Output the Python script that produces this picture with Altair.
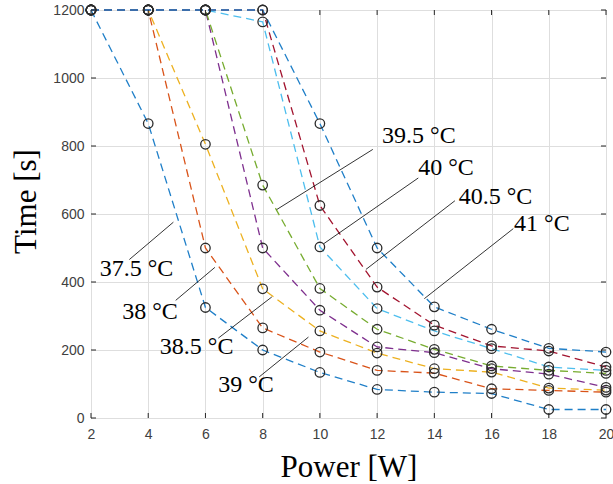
import altair as alt
import pandas as pd

# Heating power (W) on the x axis
power = [2, 4, 6, 8, 10, 12, 14, 16, 18, 20]

# Time (s) to reach each target temperature; 1200 s is the cap
t_375 = [1200, 866, 325, 200, 134, 84, 76, 72, 25, 25]
t_380 = [1200, 1200, 500, 265, 194, 140, 132, 86, 81, 76]
t_385 = [1200, 1200, 805, 380, 256, 191, 145, 135, 88, 82]
t_390 = [1200, 1200, 1200, 500, 317, 209, 192, 145, 129, 90]
t_395 = [1200, 1200, 1200, 685, 381, 261, 202, 153, 140, 131]
t_400 = [1200, 1200, 1200, 1165, 503, 322, 256, 204, 150, 140]
t_405 = [1200, 1200, 1200, 1200, 625, 385, 273, 212, 197, 150]
t_410 = [1200, 1200, 1200, 1200, 866, 500, 327, 261, 205, 194]

series_names = ["37.5 °C", "38 °C", "38.5 °C", "39 °C", "39.5 °C", "40 °C", "40.5 °C", "41 °C"]
series_values = [t_375, t_380, t_385, t_390, t_395, t_400, t_405, t_410]
series_colors = ["#1f7fc8", "#D95319", "#EDB120", "#7E2F8E",
                 "#77AC30", "#4DBEEE", "#A2142F", "#1f7fc8"]

x_ticks = [2, 4, 6, 8, 10, 12, 14, 16, 18, 20]
y_ticks = [0, 200, 400, 600, 800, 1000, 1200]

# Callout labels: leader line (x, y) -> (x2, y2) and label centre (tx, ty)
ann_label = series_names
ann_x = [3.34, 4.96, 6.45, 7.88, 8.49, 10.14, 11.61, 13.65]
ann_y = [466, 346, 235, 121, 613, 513, 437, 351]
ann_x2 = [4.88, 6.33, 8.32, 9.60, 11.85, 13.44, 14.72, 16.76]
ann_y2 = [576, 443, 356, 238, 790, 706, 639, 557]
ann_tx = [3.59, 4.06, 5.69, 7.42, 13.46, 14.41, 16.14, 17.76]
ann_ty = [438, 313, 208, 96, 828, 736, 651, 570]

rows = []
for name, vals in zip(series_names, series_values):
    for p, v in zip(power, vals):
        rows.append({"power": p, "time": v, "series": name})
df = pd.DataFrame(rows)

ann = pd.DataFrame({"label": ann_label, "x": ann_x, "y": ann_y, "x2": ann_x2,
                    "y2": ann_y2, "tx": ann_tx, "ty": ann_ty})
xt = pd.DataFrame({"v": x_ticks})
yt = pd.DataFrame({"v": y_ticks})

W, H = 515, 408
xscale = alt.Scale(domain=[2, 20], nice=False, zero=False)
yscale = alt.Scale(domain=[0, 1200], nice=False)

x_axis = alt.Axis(values=x_ticks, format="d", title="Power [W]", grid=True, ticks=False,
                  domain=False, labelFlush=False, labelFont="Liberation Sans",
                  labelFontSize=14, labelColor="#404040", labelPadding=9,
                  titleFont="Liberation Serif", titleFontSize=31,
                  titleFontWeight="normal", titleColor="#000000",
                  titleY=49, titleBaseline="middle")
y_axis = alt.Axis(values=y_ticks, format="d", title="Time [s]", grid=True, ticks=False,
                  domain=False, labelFlush=False, labelFont="Liberation Sans",
                  labelFontSize=14, labelColor="#404040", labelPadding=7,
                  titleFont="Liberation Serif", titleFontSize=31,
                  titleFontWeight="normal", titleColor="#000000",
                  titleX=-65, titleY=191, titleAngle=-90, titleAlign="center",
                  titleBaseline="middle")

color = alt.Color("series:N", scale=alt.Scale(domain=series_names, range=series_colors),
                  legend=None)

lines = alt.Chart(df).mark_line(strokeDash=[8, 5], strokeWidth=1.3).encode(
    x=alt.X("power:Q", scale=xscale, axis=x_axis),
    y=alt.Y("time:Q", scale=yscale, axis=y_axis),
    color=color,
    detail="series:N",
)

points = alt.Chart(df).mark_point(shape="circle", filled=False, size=90,
                                  color="#2b2b2b", strokeWidth=1.3, opacity=1).encode(
    x=alt.X("power:Q", scale=xscale),
    y=alt.Y("time:Q", scale=yscale),
)

leaders = alt.Chart(ann).mark_rule(color="#000000", strokeWidth=0.8).encode(
    x=alt.X("x:Q", scale=xscale), y=alt.Y("y:Q", scale=yscale),
    x2="x2:Q", y2="y2:Q",
)

labels = alt.Chart(ann).mark_text(font="Liberation Serif", fontSize=24, color="#000000",
                                  align="center", baseline="middle").encode(
    x=alt.X("tx:Q", scale=xscale), y=alt.Y("ty:Q", scale=yscale), text="label:N",
)

# Inward tick marks on all four sides of the box
tick_len = 5
xb = alt.Chart(xt).mark_rule(color="#262626", strokeWidth=1).encode(
    x=alt.X("v:Q", scale=xscale), y=alt.value(H), y2=alt.value(H - tick_len))
xtop = alt.Chart(xt).mark_rule(color="#262626", strokeWidth=1).encode(
    x=alt.X("v:Q", scale=xscale), y=alt.value(0), y2=alt.value(tick_len))
yl = alt.Chart(yt).mark_rule(color="#262626", strokeWidth=1).encode(
    y=alt.Y("v:Q", scale=yscale), x=alt.value(0), x2=alt.value(tick_len))
yr = alt.Chart(yt).mark_rule(color="#262626", strokeWidth=1).encode(
    y=alt.Y("v:Q", scale=yscale), x=alt.value(W), x2=alt.value(W - tick_len))

chart = alt.layer(lines, points, leaders, labels, xb, xtop, yl, yr).properties(
    width=W, height=H,
    autosize=alt.AutoSizeParams(type="none"),
    padding={"left": 91, "top": 10, "right": 7, "bottom": 66},
    background="#ffffff",
).configure_view(
    stroke="#262626", strokeWidth=1
).configure_axis(
    gridColor="#dedede", gridWidth=1
)

chart.save("out.html", embed_options={"renderer": "svg", "actions": False})
